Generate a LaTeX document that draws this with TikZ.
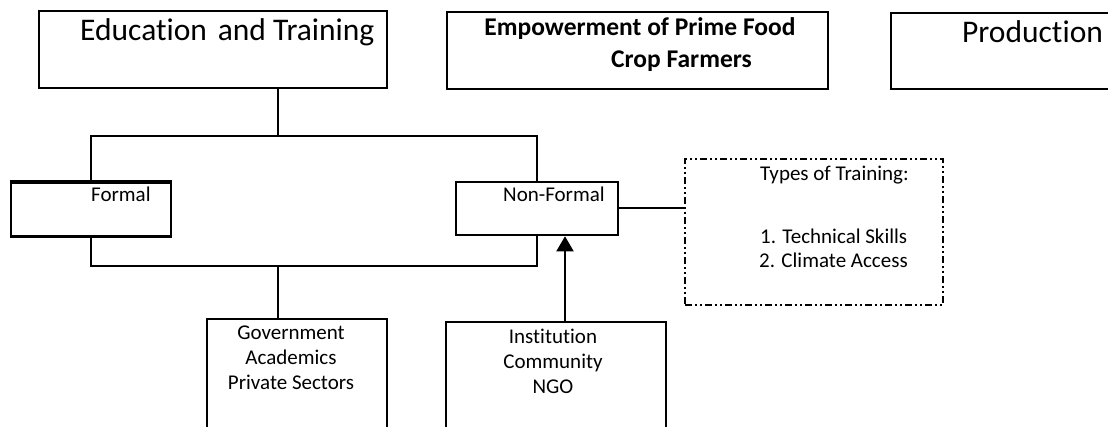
\documentclass[tikz,border=0pt]{standalone}
\usepackage{fontspec}
\setmainfont{Carlito}[Ligatures=NoCommon]
\usetikzlibrary{arrows.meta}
\begin{document}
\begin{tikzpicture}[x=1pt,y=-1pt,
  box/.style={draw, line width=2pt, rectangle, inner sep=0pt},
  boldbox/.style={draw, line width=2.6pt, rectangle, inner sep=0pt},
  dotbox/.style={draw, line width=2pt, rectangle, inner sep=0pt,
    dash pattern=on 7pt off 3pt on 2pt off 3pt on 2pt off 3pt},
  conn/.style={line width=2pt},
  bigtxt/.style={font=\fontsize{31.5}{36}\selectfont, inner sep=0pt},
  headtxt/.style={font=\fontsize{25.5}{30}\selectfont\bfseries, inner sep=0pt, anchor=base},
  txt/.style={font=\fontsize{21}{25}\selectfont, inner sep=0pt},
]
\useasboundingbox (0,0) rectangle (1108,427);
\clip (0,0) rectangle (1108,427);

% top row
\node[box, minimum width=348, minimum height=77] (edu) at (213,49.8) {};
\node[bigtxt, anchor=base west] (edut) at (80,41) {Education\hspace{0.12em} and Training};

\node[box, minimum width=381, minimum height=77] (emp) at (637.5,50.5) {};
\node[headtxt] (empa) at (640,36) {Empowerment of Prime Food};
\node[headtxt] (empb) at (681.5,67.5) {Crop Farmers};

\node[box, minimum width=229, minimum height=76] (prod) at (1005.5,51) {};
\node[bigtxt, anchor=base west] (prodt) at (962,42.3) {Production};

% second row
\node[boldbox, minimum width=160, minimum height=53.7] (formal) at (91,209.8) {};
\draw[line width=4pt] (formal.north west) -- (formal.north east);
\node[txt, anchor=base west] (formalt) at (91,201.7) {Formal};

\node[boldbox, minimum width=162, minimum height=53] (nonformal) at (537,208.5) {};
\node[txt, anchor=base west] (nonformalt) at (503,201.7) {Non-Formal};

\node[dotbox, minimum width=258, minimum height=146] (types) at (814,232) {};
\node[txt, anchor=base west] (typest) at (760,180.7) {Types of Training:};
\node[txt, anchor=base west] (typea) at (760,243.3) {1. Technical Skills};
\node[txt, anchor=base west] (typeb) at (759,267.3) {2. Climate Access};

% bottom row
\node[box, minimum width=180, minimum height=141] (gov) at (297,389.5) {};
\node[txt, anchor=base] (gova) at (291,340) {Government};
\node[txt, anchor=base] (govb) at (291,365) {Academics};
\node[txt, anchor=base] (govc) at (291,389.3) {Private Sectors};

\node[box, minimum width=220, minimum height=138] (inst) at (556,391) {};
\node[txt, anchor=base] (insta) at (553,343.3) {Institution};
\node[txt, anchor=base] (instb) at (553,368.5) {Community};
\node[txt, anchor=base] (instc) at (553,393.5) {NGO};

% connectors
\coordinate (jt) at (278,136);
\coordinate (jb) at (278,266);
\coordinate (ax) at (565,0);
\draw[conn] (jt |- edu.south) -- (jt);
\draw[conn] (formal.north) |- (jt) -| (nonformal.north);
\draw[conn] (formal.south) |- (jb) -| (nonformal.south);
\draw[conn] (jb) -- (jb |- gov.north);
\draw[conn, -{Triangle[length=15pt,width=17pt]}] (ax |- inst.north) -- (ax |- nonformal.south);
\draw[conn] (nonformal.east) -- (nonformal.east -| types.west);
\end{tikzpicture}
\end{document}
